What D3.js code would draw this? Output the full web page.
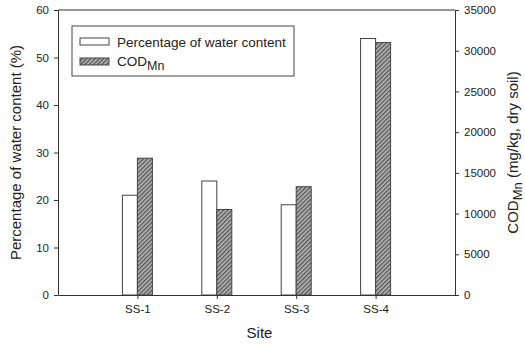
<!DOCTYPE html>
<html>
<head>
<meta charset="utf-8">
<script src="https://cdn.jsdelivr.net/npm/d3@7"></script>
<style>
  body { margin: 0; background: #fff; }
  svg { font-family: "Liberation Sans", Arial, sans-serif; }
</style>
</head>
<body>
<div id="chart"></div>
<script>
var sites = ["SS-1", "SS-2", "SS-3", "SS-4"];
var waterContent = [21, 24, 19, 54];
var codMn = [16800, 10500, 13300, 31000];
var leftTicks = [0, 10, 20, 30, 40, 50, 60];
var rightTicks = [0, 5000, 10000, 15000, 20000, 25000, 30000, 35000];

var width = 525, height = 345;
var margin = { top: 10, right: 70, bottom: 50, left: 58 };
var axisColor = "#333";

var svg = d3.select("#chart").append("svg")
  .attr("width", width).attr("height", height);

var defs = svg.append("defs");
var pat = defs.append("pattern")
  .attr("id", "hatch")
  .attr("patternUnits", "userSpaceOnUse")
  .attr("width", 3).attr("height", 3)
  .attr("patternTransform", "rotate(45)");
pat.append("rect").attr("width", 3).attr("height", 3).attr("fill", "#bbb");
pat.append("rect").attr("width", 1.4).attr("height", 3).attr("fill", "#555");

var x = d3.scaleLinear([0, sites.length + 1], [margin.left, width - margin.right]);
var yL = d3.scaleLinear([0, 60], [height - margin.bottom, margin.top]);
var yR = d3.scaleLinear([0, 35000], [height - margin.bottom, margin.top]);
var barW = 15;

// top frame line
svg.append("line")
  .attr("x1", margin.left).attr("x2", width - margin.right)
  .attr("y1", margin.top).attr("y2", margin.top)
  .attr("stroke", axisColor);

// bars
svg.append("g").selectAll("rect")
  .data(waterContent)
  .join("rect")
  .attr("x", function (d, i) { return x(i + 1) - barW; })
  .attr("y", function (d) { return yL(d); })
  .attr("width", barW)
  .attr("height", function (d) { return yL(0) - yL(d); })
  .attr("fill", "#fff")
  .attr("stroke", "#444");

svg.append("g").selectAll("rect")
  .data(codMn)
  .join("rect")
  .attr("x", function (d, i) { return x(i + 1); })
  .attr("y", function (d) { return yR(d); })
  .attr("width", barW)
  .attr("height", function (d) { return yR(0) - yR(d); })
  .attr("fill", "url(#hatch)")
  .attr("stroke", "#444");

function styleAxis(g) {
  g.selectAll("path, line").attr("stroke", axisColor);
  g.selectAll("text").attr("fill", "#222").attr("font-size", 11.5);
}

svg.append("g")
  .attr("transform", "translate(" + margin.left + ",0)")
  .call(d3.axisLeft(yL).tickValues(leftTicks).tickSize(4).tickSizeOuter(0).tickPadding(5))
  .call(styleAxis);

svg.append("g")
  .attr("transform", "translate(" + (width - margin.right) + ",0)")
  .call(d3.axisRight(yR).tickValues(rightTicks).tickFormat(d3.format("d"))
    .tickSize(4).tickSizeOuter(0).tickPadding(5))
  .call(styleAxis);

svg.append("g")
  .attr("transform", "translate(0," + (height - margin.bottom) + ")")
  .call(d3.axisBottom(x).tickValues(d3.range(1, sites.length + 1))
    .tickFormat(function (d) { return sites[d - 1]; })
    .tickSize(4).tickSizeOuter(0).tickPadding(6))
  .call(styleAxis);

// axis titles
svg.append("text")
  .attr("transform", "translate(21," + ((margin.top + height - margin.bottom) / 2) + ") rotate(-90)")
  .attr("text-anchor", "middle")
  .attr("font-size", 15)
  .attr("fill", "#222")
  .text("Percentage of water content (%)");

svg.append("text")
  .attr("x", (margin.left + width - margin.right) / 2 + 3)
  .attr("y", 338)
  .attr("text-anchor", "middle")
  .attr("font-size", 15)
  .attr("fill", "#222")
  .text("Site");

var rt = svg.append("text")
  .attr("transform", "translate(518," + ((margin.top + height - margin.bottom) / 2) + ") rotate(-90)")
  .attr("text-anchor", "middle")
  .attr("font-size", 15)
  .attr("fill", "#222");
rt.append("tspan").text("COD");
rt.append("tspan").attr("dy", 4).attr("font-size", 13).text("Mn");
rt.append("tspan").attr("dy", -4).text(" (mg/kg, dry soil)");

// legend
var lg = svg.append("g");
lg.append("rect")
  .attr("x", 72).attr("y", 26).attr("width", 222).attr("height", 50)
  .attr("fill", "#fff").attr("stroke", "#444");
lg.append("rect")
  .attr("x", 80).attr("y", 38).attr("width", 29).attr("height", 7)
  .attr("fill", "#fff").attr("stroke", "#444");
lg.append("rect")
  .attr("x", 80).attr("y", 58).attr("width", 29).attr("height", 7)
  .attr("fill", "url(#hatch)").attr("stroke", "#444");
lg.append("text")
  .attr("x", 117).attr("y", 47)
  .attr("font-size", 13.5).attr("fill", "#222")
  .text("Percentage of water content");
var lt = lg.append("text")
  .attr("x", 117).attr("y", 66)
  .attr("font-size", 13.5).attr("fill", "#222");
lt.append("tspan").text("COD");
lt.append("tspan").attr("dy", 4).attr("font-size", 12.5).text("Mn");
</script>
</body>
</html>
